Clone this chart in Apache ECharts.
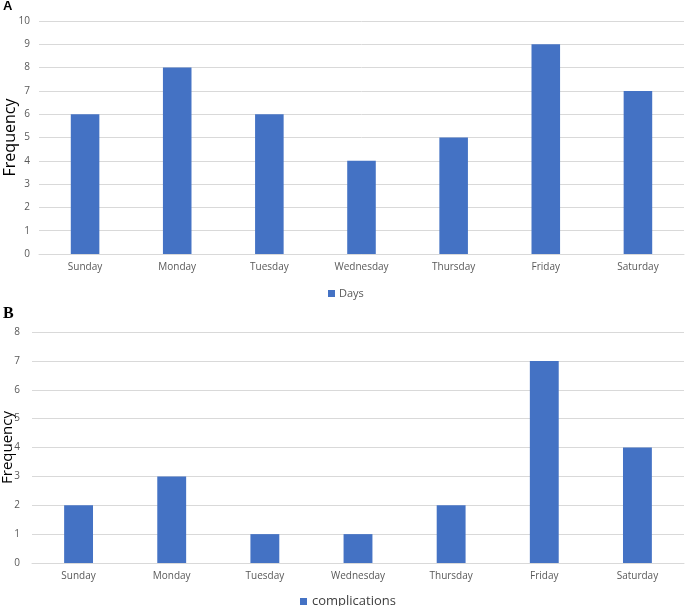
<!DOCTYPE html>
<html><head><meta charset="utf-8">
<script src="https://cdn.jsdelivr.net/npm/echarts@6/dist/echarts.min.js"></script>
<style>html,body{margin:0;padding:0;background:#fff}#c{width:685px;height:606px}</style>
</head><body><div id="c"></div>
<script>
const categories = ['Sunday','Monday','Tuesday','Wednesday','Thursday','Friday','Saturday'];
const daysValues = [6, 8, 6, 4, 5, 9, 7];
const complicationsValues = [2, 3, 1, 1, 2, 7, 4];
const yTicksA = [0,1,2,3,4,5,6,7,8,9,10];
const yTicksB = [0,1,2,3,4,5,6,7,8];

const font = '"Open Sans", "Liberation Sans", sans-serif';
const labelColor = '#595959';
const chart = echarts.init(document.getElementById('c'));
function xAx(idx){
  return {type:'category', gridIndex:idx, data:categories,
    axisLine:{show:true, lineStyle:{color:'#d9d9d9'}}, axisTick:{show:false},
    axisLabel:{color:labelColor, fontSize:10, fontFamily:font, margin:8}};
}
function yAx(idx, ticks, gap, margin, nsize){
  return {type:'value', gridIndex:idx, min:ticks[0], max:ticks[ticks.length-1], interval:1,
    name:'Frequency', nameLocation:'middle', nameRotate:90, nameGap:gap, nameMoveOverlap:false,
    nameTextStyle:{color:'#000', fontSize:nsize, fontFamily:font},
    axisLine:{show:false}, axisTick:{show:false},
    axisLabel:{color:labelColor, fontSize:10, fontFamily:font, margin:margin},
    splitLine:{lineStyle:{color:'#d9d9d9', width:1}}};
}
chart.setOption({
  animation:false,
  textStyle:{fontFamily:font},
  grid:[
    {left:39, right:1, top:21, height:233, containLabel:false, outerBoundsMode:'none'},
    {left:32, right:1, top:332, height:231, containLabel:false, outerBoundsMode:'none'}
  ],
  xAxis:[xAx(0), xAx(1)],
  yAxis:[yAx(0, yTicksA, 21, 9, 16), yAx(1, yTicksB, 17, 12, 15)],
  legend:[
    {data:['Days'], left:323, top:283, icon:'rect', itemWidth:7, itemHeight:7, itemGap:4,
     textStyle:{color:labelColor, fontSize:11, fontFamily:font, padding:[0,0,0,-1]}},
    {data:['complications'], left:295, top:590, icon:'rect', itemWidth:7, itemHeight:7,
     textStyle:{color:'#404040', fontSize:13, fontFamily:font}}
  ],
  series:[
    {name:'Days', type:'bar', xAxisIndex:0, yAxisIndex:0, data:daysValues, barWidth:'31%',
     itemStyle:{color:'#4472C4'}},
    {name:'complications', type:'bar', xAxisIndex:1, yAxisIndex:1, data:complicationsValues, barWidth:'31%',
     itemStyle:{color:'#4472C4'}}
  ],
  graphic:[
    {type:'text', left:3, top:0, style:{text:'A', font:'bold 13px "Liberation Sans", sans-serif', fill:'#000'}},
    {type:'text', left:3, top:306, style:{text:'B', font:'bold 16px "Liberation Serif", serif', fill:'#000'}}
  ]
});
</script></body></html>
